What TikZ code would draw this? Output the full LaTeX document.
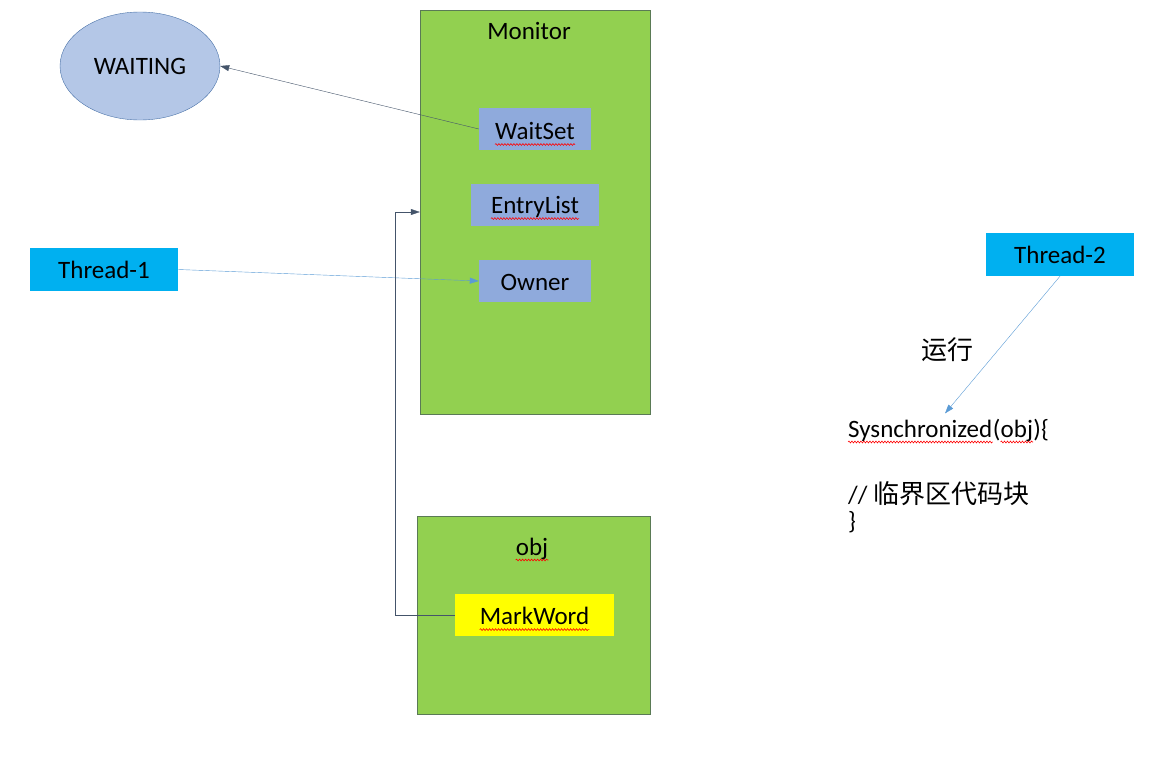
\documentclass[tikz,border=0pt]{standalone}
\usepackage{fontspec}
\usetikzlibrary{arrows.meta,positioning,calc,shapes.geometric,decorations.pathmorphing}
\setmainfont{Carlito}
\newfontfamily\cjk{Noto Sans CJK SC}
\definecolor{grass}{HTML}{92D050}
\definecolor{grassline}{HTML}{5A7A55}
\definecolor{slot}{HTML}{8FAADC}
\definecolor{pale}{HTML}{B4C7E7}
\definecolor{paleline}{HTML}{4A72A8}
\definecolor{cyan}{HTML}{00B0F0}
\definecolor{mark}{HTML}{FFFF00}
\definecolor{link}{HTML}{5B9BD5}
\definecolor{slate}{HTML}{44546A}

\begin{document}
\begin{tikzpicture}[x=1pt,y=-1pt,>={Triangle[length=9pt,width=6pt]},
 font=\fontsize{25}{30}\selectfont,
 region/.style={rectangle,draw=grassline,fill=grass,inner sep=0pt},
 slotbox/.style={rectangle,fill=slot,minimum width=112pt,minimum height=42pt,inner sep=0pt},
 thread/.style={rectangle,fill=cyan,minimum width=148pt,minimum height=43pt,inner sep=0pt},
 plain/.style={inner sep=0pt},
 squiggle/.style={red,line width=0.6pt,decorate,decoration={snake,amplitude=0.9pt,segment length=3pt}}]
\useasboundingbox (0,0) rectangle (1153,763);
% monitor and its slots
\node[region,minimum width=230pt,minimum height=404pt] (monitor) at (535,212) {};
\node[plain,anchor=base] (montitle) at (529,39) {Monitor};
\node[slotbox] (waitset) at (535,129) {};
\node[plain] (waitsettext) at ([yshift=-2pt]waitset.center) {WaitSet};
\node[slotbox,minimum width=128pt] (entrylist) at (535,205) {};
\node[plain] (entrylisttext) at ([yshift=-2pt]entrylist.center) {EntryList};
\node[slotbox] (owner) at (535,281) {};
\node[plain] (ownertext) at ([yshift=-1pt]owner.center) {Owner};
% object with its mark word
\node[region,minimum width=233pt,minimum height=198pt] (obj) at (533.5,615) {};
\node[plain,anchor=base] (objtitle) at (532,555) {obj};
\node[rectangle,fill=mark,minimum width=159pt,minimum height=42pt,inner sep=0pt] (markword) at (534.5,615) {};
\node[plain] (markwordtext) at ([yshift=-1pt]markword.center) {MarkWord};
% states and threads
\node[ellipse,draw=paleline,fill=pale,minimum width=160pt,minimum height=108pt,inner sep=0pt] (waiting) at (140,66) {WAITING};
\node[thread] (t1) at (104,269.5) {Thread-1};
\node[thread] (t2) at (1060,254.5) {Thread-2};
% code
\node[plain,anchor=base west] (syncword) at (848,437) {Sysnchronized};
\node[plain,anchor=base west] (syncopen) at (syncword.base east) {(};
\node[plain,anchor=base west] (syncobj) at (syncopen.base east) {obj};
\node[plain,anchor=base west] (syncclose) at (syncobj.base east) {)\{};
\node[plain,anchor=base west] (body) at (848,503) {//\hspace{6pt}{\cjk\fontsize{26}{30}\selectfont 临界区代码块}};
\node[plain,anchor=base west] (close) at (848,529) {\}};
\node[plain] (run) at (947,350) {\cjk\fontsize{26}{30}\selectfont 运行};
% spelling marks
\foreach \w in {waitsettext,entrylisttext,objtitle,markwordtext,syncword,syncobj}
 \draw[squiggle] ([yshift=-5pt]\w.base west) -- ([yshift=-5pt]\w.base east);
% connectors
\draw[slate,->] (waitset.west) -- (waiting.east);
\draw[link,->] (t1.east) -- (owner.west);
\draw[slate,->] (markword.west) -- ++(-60,0) |- (monitor.west);
\draw[link,->] (t2.south) -- ([shift={(97,-6)}]syncword.north west);
\end{tikzpicture}
\end{document}
